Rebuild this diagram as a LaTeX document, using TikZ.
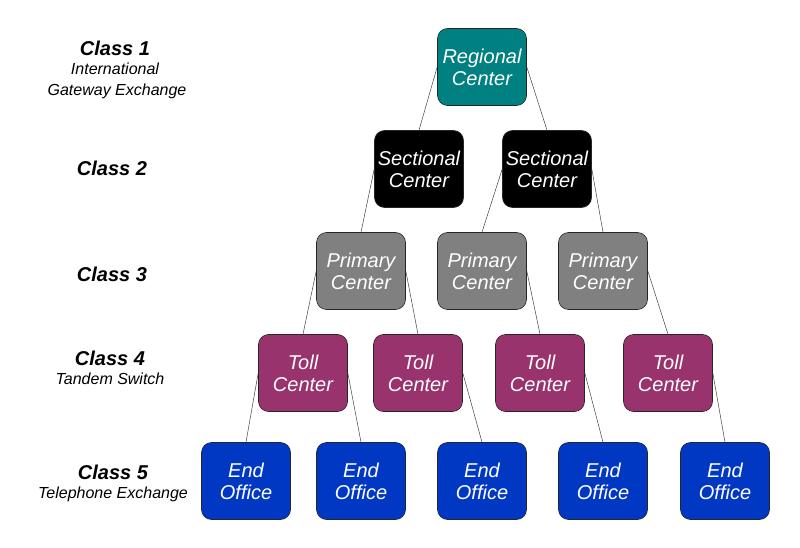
\documentclass[tikz,border=0pt]{standalone}
\usepackage{fontspec}
\setmainfont{Liberation Sans}
\definecolor{regional}{RGB}{0,128,128}
\definecolor{primary}{RGB}{128,128,128}
\definecolor{toll}{RGB}{153,51,110}
\definecolor{endoffice}{RGB}{0,56,196}
\tikzset{
  office/.style={draw=black!85, line width=0.6pt, rounded corners=10pt,
    minimum width=89pt, minimum height=77pt, inner sep=0pt, align=center,
    text=white, font=\itshape\fontsize{20}{22}\selectfont},
  classname/.style={font=\bfseries\itshape\fontsize{20}{22}\selectfont},
  classnote/.style={font=\itshape\fontsize{16}{18}\selectfont},
  link/.style={draw=black!75, line width=0.5pt}
}

\begin{document}
\begin{tikzpicture}[x=1pt, y=-1pt]
  \useasboundingbox (0,0) rectangle (800,548);
  \node[classname] (class1) at (115,48) {Class 1};
  \node[classnote] (note1a) at (115,69) {International};
  \node[classnote] (note1b) at (117,91) {Gateway Exchange};
  \node[classname] (class2) at (112,168) {Class 2};
  \node[classname] (class3) at (112,274) {Class 3};
  \node[classname] (class4) at (110,358) {Class 4};
  \node[classnote] (note4) at (110,379) {Tandem Switch};
  \node[classname] (class5) at (113,472) {Class 5};
  \node[classnote] (note5) at (113,494) {Telephone Exchange};

  \node[office, fill=regional] (rc) at (482,67) {Regional\\Center};

  \node[office, fill=black] (sc1) at (419,169) {Sectional\\Center};
  \node[office, fill=black] (sc2) at (547,169) {Sectional\\Center};

  \node[office, fill=primary] (pc1) at (361,271) {Primary\\Center};
  \node[office, fill=primary] (pc2) at (482,271) {Primary\\Center};
  \node[office, fill=primary] (pc3) at (603,271) {Primary\\Center};

  \node[office, fill=toll] (tc1) at (303,373) {Toll\\Center};
  \node[office, fill=toll] (tc2) at (418,373) {Toll\\Center};
  \node[office, fill=toll] (tc3) at (540,373) {Toll\\Center};
  \node[office, fill=toll] (tc4) at (668,373) {Toll\\Center};

  \node[office, fill=endoffice] (eo1) at (246,481) {End\\Office};
  \node[office, fill=endoffice] (eo2) at (361,481) {End\\Office};
  \node[office, fill=endoffice] (eo3) at (482,481) {End\\Office};
  \node[office, fill=endoffice] (eo4) at (603,481) {End\\Office};
  \node[office, fill=endoffice] (eo5) at (725,481) {End\\Office};

  \draw[link] (rc.west) -- (sc1.north);
  \draw[link] (rc.east) -- (sc2.north);
  \draw[link] (sc1.west) -- (pc1.north);
  \draw[link] (sc2.west) -- (pc2.north);
  \draw[link] (sc2.east) -- (pc3.north);
  \draw[link] (pc1.west) -- (tc1.north);
  \draw[link] (pc1.east) -- (tc2.north);
  \draw[link] (pc2.east) -- (tc3.north);
  \draw[link] (pc3.east) -- (tc4.north);
  \draw[link] (tc1.west) -- (eo1.north);
  \draw[link] (tc1.east) -- (eo2.north);
  \draw[link] (tc2.east) -- (eo3.north);
  \draw[link] (tc3.east) -- (eo4.north);
  \draw[link] (tc4.east) -- (eo5.north);
\end{tikzpicture}
\end{document}
